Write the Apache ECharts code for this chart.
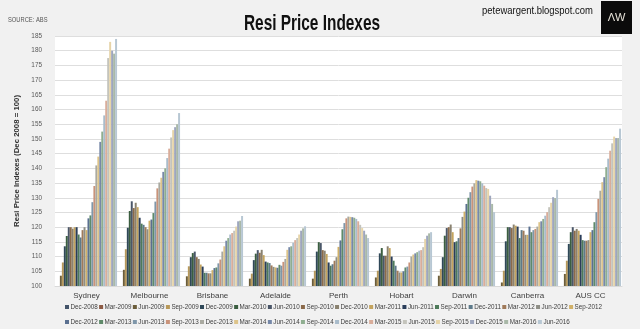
<!DOCTYPE html>
<html>
<head>
<meta charset="utf-8">
<script src="https://cdn.jsdelivr.net/npm/echarts@6/dist/echarts.min.js"></script>
<style>
html,body{margin:0;padding:0;background:#f1f1f1;}
#c{width:640px;height:329px;}
</style>
</head>
<body>
<div id="c"></div>
<script>
var cities = ['Sydney','Melbourne','Brisbane','Adelaide','Perth','Hobart','Darwin','Canberra','AUS CC'];
var quarters = ['Dec-2008','Mar-2009','Jun-2009','Sep-2009','Dec-2009','Mar-2010','Jun-2010','Sep-2010','Dec-2010','Mar-2011','Jun-2011','Sep-2011','Dec-2011','Mar-2012','Jun-2012','Sep-2012','Dec-2012','Mar-2013','Jun-2013','Sep-2013','Dec-2013','Mar-2014','Jun-2014','Sep-2014','Dec-2014','Mar-2015','Jun-2015','Sep-2015','Dec-2015','Mar-2016','Jun-2016'];
var yTicks = {min:100, max:185, step:5};

// index values per city, one per quarter (Dec-2008 = 100)
var sydney    = [100, 99, 103.5, 108, 113.5, 117, 120, 120, 119.5, 120, 120, 117.5, 116.5, 119, 120, 119, 123, 124, 128.5, 134, 141, 144, 149, 152.5, 158, 163, 177.5, 183, 180, 179, 184];
var melbourne = [100, 99, 105.5, 112.5, 119.8, 125.5, 128.8, 126.5, 128.3, 126.8, 123.2, 121.2, 120.8, 120, 119.3, 122.2, 122.6, 124.8, 128.7, 133.2, 135.2, 136.8, 138.8, 140, 143.5, 146.7, 150.5, 153, 154, 155, 158.8];
var brisbane  = [100, 99, 103.3, 106.7, 109.8, 111.2, 111.7, 109.8, 109.2, 107.3, 106.6, 104.5, 104.5, 104.3, 104.3, 105.4, 106.1, 106.3, 107.7, 109, 111.7, 113.5, 115.4, 116.3, 117.5, 118, 118.8, 120.2, 122, 122.2, 123.8];
var adelaide  = [100, 99, 102.5, 104.2, 108.8, 111, 112.2, 111.3, 112.3, 110.5, 108.3, 108, 107.8, 107, 106.5, 106.3, 106.2, 107.2, 106.9, 108.2, 109.2, 112.3, 113.2, 113.5, 114.7, 115.6, 116.3, 117.5, 118.8, 119.6, 120.3];
var perth     = [100, 99, 102.5, 105.2, 111.7, 114.9, 114.6, 112.2, 112, 110.9, 108, 106.9, 107.4, 108.6, 109.8, 113.3, 115.5, 119.3, 121.4, 123, 123.6, 123.5, 123.4, 123.2, 122.8, 122, 120.8, 119.7, 118.8, 117.5, 116.3];
var hobart    = [100, 99, 102.9, 105.2, 111.1, 112.9, 110.3, 110.3, 113.5, 112.9, 110, 108.6, 106.9, 105.2, 104.6, 104.6, 105, 106.3, 106.6, 108, 110, 110.7, 111.1, 111.5, 112, 112.2, 113.2, 116, 117.1, 117.9, 118.3];
var darwin    = [100, 99, 103.5, 105.8, 109.8, 117.1, 119.7, 120, 120.9, 118.3, 114.9, 115.2, 116.3, 119.6, 123.5, 125.3, 127.9, 130, 131.9, 133.8, 134.9, 136, 135.8, 135.6, 134.9, 134.1, 133.3, 133, 130.7, 127.9, 125.1];
var canberra  = [100, 99, 101.2, 105.2, 115.2, 120, 120, 119.7, 120.9, 120.5, 120.2, 116.3, 119, 118.8, 117.4, 117.4, 120.2, 118.3, 119, 119.4, 120.2, 121.7, 122, 122.8, 123.9, 125.1, 126.8, 128.3, 130.2, 129.9, 132.7];
var ausCC     = [100, 99, 104.1, 108.6, 114.3, 118.3, 120, 118.8, 119.4, 118.8, 117.4, 115.6, 115.4, 115.4, 115.6, 118.3, 119, 121.7, 125.1, 129.6, 132.4, 135.3, 137, 140.4, 143.3, 146, 148.5, 150.8, 150.3, 150.3, 153.5];

var cityData = [sydney, melbourne, brisbane, adelaide, perth, hobart, darwin, canberra, ausCC];

var colors = ['#44546a','#8c5a44','#6b5d3a','#b8995a','#2f4858','#3b5e40','#4a5668','#8b6a4a','#8a8270','#c4a45e',
              '#2a3d5a','#4e7a5a','#5d7a8a','#a07a5a','#8e8e86','#d0b068','#5a7090','#5f8a6a','#7f97aa','#c9937a',
              '#a9a9a0','#ddc48a','#7688a8','#8fae90','#a9bccb','#d9ad9a','#c4c4bc','#e6d4a8','#9ea6bd','#a9b8a8','#b7c7d3'];

var SANS = '"Liberation Sans", Arial, sans-serif';

var series = quarters.map(function(q, i){
  return {
    name: q,
    type: 'bar',
    barGap: '0%',
    barCategoryGap: '3%',
    clip: true,
    itemStyle: {color: colors[i]},
    data: cityData.map(function(arr){ return arr[i]; })
  };
});

var legendCommon = {
  orient: 'horizontal',
  padding: 0,
  width: 600,
  itemWidth: 4,
  itemHeight: 4,
  itemGap: 1.3,
  icon: 'rect',
  textStyle: {fontFamily: SANS, fontSize: 6.3, color: '#404040', width: 24, overflow: 'none', padding: [0, 0, 0, -3.5]}
};

var chart = echarts.init(document.getElementById('c'), null, {renderer: 'canvas'});
chart.setOption({
  backgroundColor: '#f1f1f1',
  animation: false,
  color: colors,
  legend: [
    Object.assign({}, legendCommon, {data: quarters.slice(0,16), left: 65, top: 304}),
    Object.assign({}, legendCommon, {data: quarters.slice(16), left: 65, top: 319})
  ],
  grid: {left: 55, right: 18, top: 36, bottom: 43, show: true, backgroundColor: '#ffffff', borderWidth: 0, containLabel: false},
  xAxis: {
    type: 'category',
    data: cities,
    axisTick: {show: false},
    axisLine: {show: true, lineStyle: {color: '#d9d9d9'}},
    axisLabel: {fontFamily: SANS, fontSize: 8, color: '#404040', margin: 6}
  },
  yAxis: {
    type: 'value',
    min: yTicks.min,
    max: yTicks.max,
    interval: yTicks.step,
    name: 'Resi Price Indexes (Dec 2008 = 100)',
    nameLocation: 'middle',
    nameGap: 25,
    nameTextStyle: {fontFamily: SANS, fontWeight: 'bold', fontSize: 7.8, color: '#333'},
    axisLine: {show: false},
    axisTick: {show: false},
    axisLabel: {fontFamily: SANS, fontSize: 6.4, color: '#595959', margin: 13},
    splitLine: {lineStyle: {color: '#dedede', width: 1}}
  },
  graphic: [
    {type: 'text', x: 312, y: 24, scaleX: 0.7, style: {text: 'Resi Price Indexes', fontFamily: SANS, fontWeight: 'bold', fontSize: 22, fill: '#111', align: 'center', verticalAlign: 'middle'}},
    {type: 'text', x: 8, y: 20, scaleX: 0.85, style: {text: 'SOURCE: ABS', fontFamily: SANS, fontSize: 6.8, fill: '#555', verticalAlign: 'middle'}},
    {type: 'text', x: 482, y: 11, scaleX: 0.86, style: {text: 'petewargent.blogspot.com', fontFamily: SANS, fontSize: 11, fill: '#111', verticalAlign: 'middle'}},
    {type: 'rect', x: 601, y: 1, shape: {width: 31, height: 33}, style: {fill: '#0b0b0b'}},
    {type: 'text', x: 616.5, y: 18, style: {text: 'ΛW', fontFamily: SANS, fontSize: 11, fill: '#e8e4da', align: 'center', verticalAlign: 'middle'}}
  ],
  series: series
});
</script>
</body>
</html>
